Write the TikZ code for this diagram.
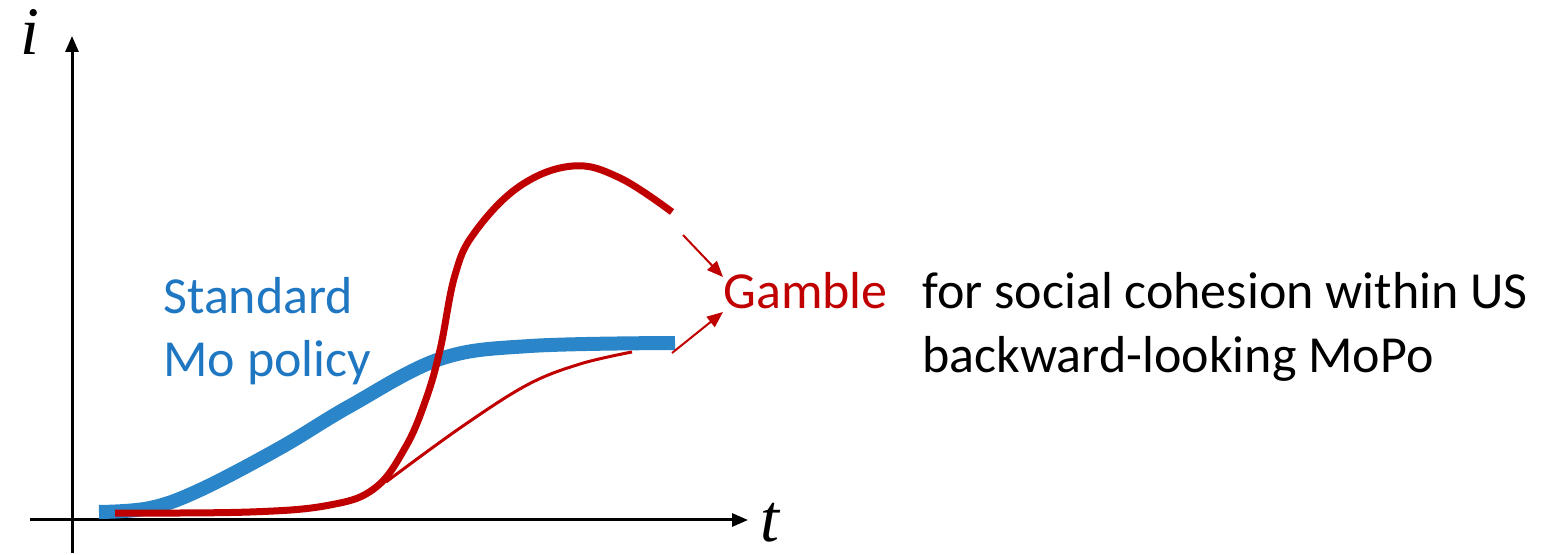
\documentclass[tikz,border=0pt]{standalone}
\usepackage{fontspec}
\setmainfont{Carlito}
\newfontfamily\axisfont{Liberation Serif}
\usetikzlibrary{arrows.meta}
\definecolor{polblue}{HTML}{2A86C8}
\definecolor{txtblue}{HTML}{1F77C2}
\definecolor{gamred}{HTML}{C00000}
\tikzset{
  axis/.style={line width=1.5pt,-{Triangle[length=8pt,width=6.5pt]}},
  axlab/.style={font=\fontsize{34}{38}\axisfont\itshape,anchor=base,inner sep=0pt},
  lab/.style={font=\fontsize{26}{31}\selectfont,anchor=base west,inner sep=0pt},
  tip/.style={gamred,line width=1pt,-{Triangle[length=8pt,width=6.5pt]}}
}
\begin{document}
\begin{tikzpicture}[x=0.5pt,y=-0.5pt]
\useasboundingbox (0,0) rectangle (1548,555);
\draw[axis] (72,553)--(72,36);
\draw[axis] (30,520)--(748,520);
\node[axlab] (ilab) at (30,55) {i};
\node[axlab] (tlab) at (770,541) {t};

% standard policy
\draw[polblue,line width=7pt] plot[smooth,tension=0.6] coordinates
  {(99,512) (150,508) (200,490) (280,448) (350,406) (440,359) (530,346) (675,343)};
% gamble paths
\draw[gamred,line width=3.5pt] plot[smooth,tension=0.65] coordinates
  {(115,513) (250,512) (330,505) (375,488) (405,448) (425,402) (440,350) (455,275)
   (475,232) (520,186) (573,166) (620,178) (672,212)};
\draw[gamred,line width=1.5pt] plot[smooth,tension=0.6] coordinates
  {(386,482) (460,428) (527,385) (580,364) (632,352)};

\node[lab,txtblue] (std) at (163,314) {Standard};
\node[lab,txtblue] (mop) at (163,377) {Mo policy};
\node[lab,gamred] (gam) at (723,309) {Gamble};
\node[lab] (soc) at (922,309) {for social cohesion within US};
\node[lab] (bwd) at (922,373) {backward-looking MoPo};

\coordinate (up) at (683,235);
\coordinate (lo) at (672,353);
\draw[tip] (up) -- (gam.west|-0,277);
\draw[tip] (lo) -- (gam.west|-0,312);
\end{tikzpicture}
\end{document}
